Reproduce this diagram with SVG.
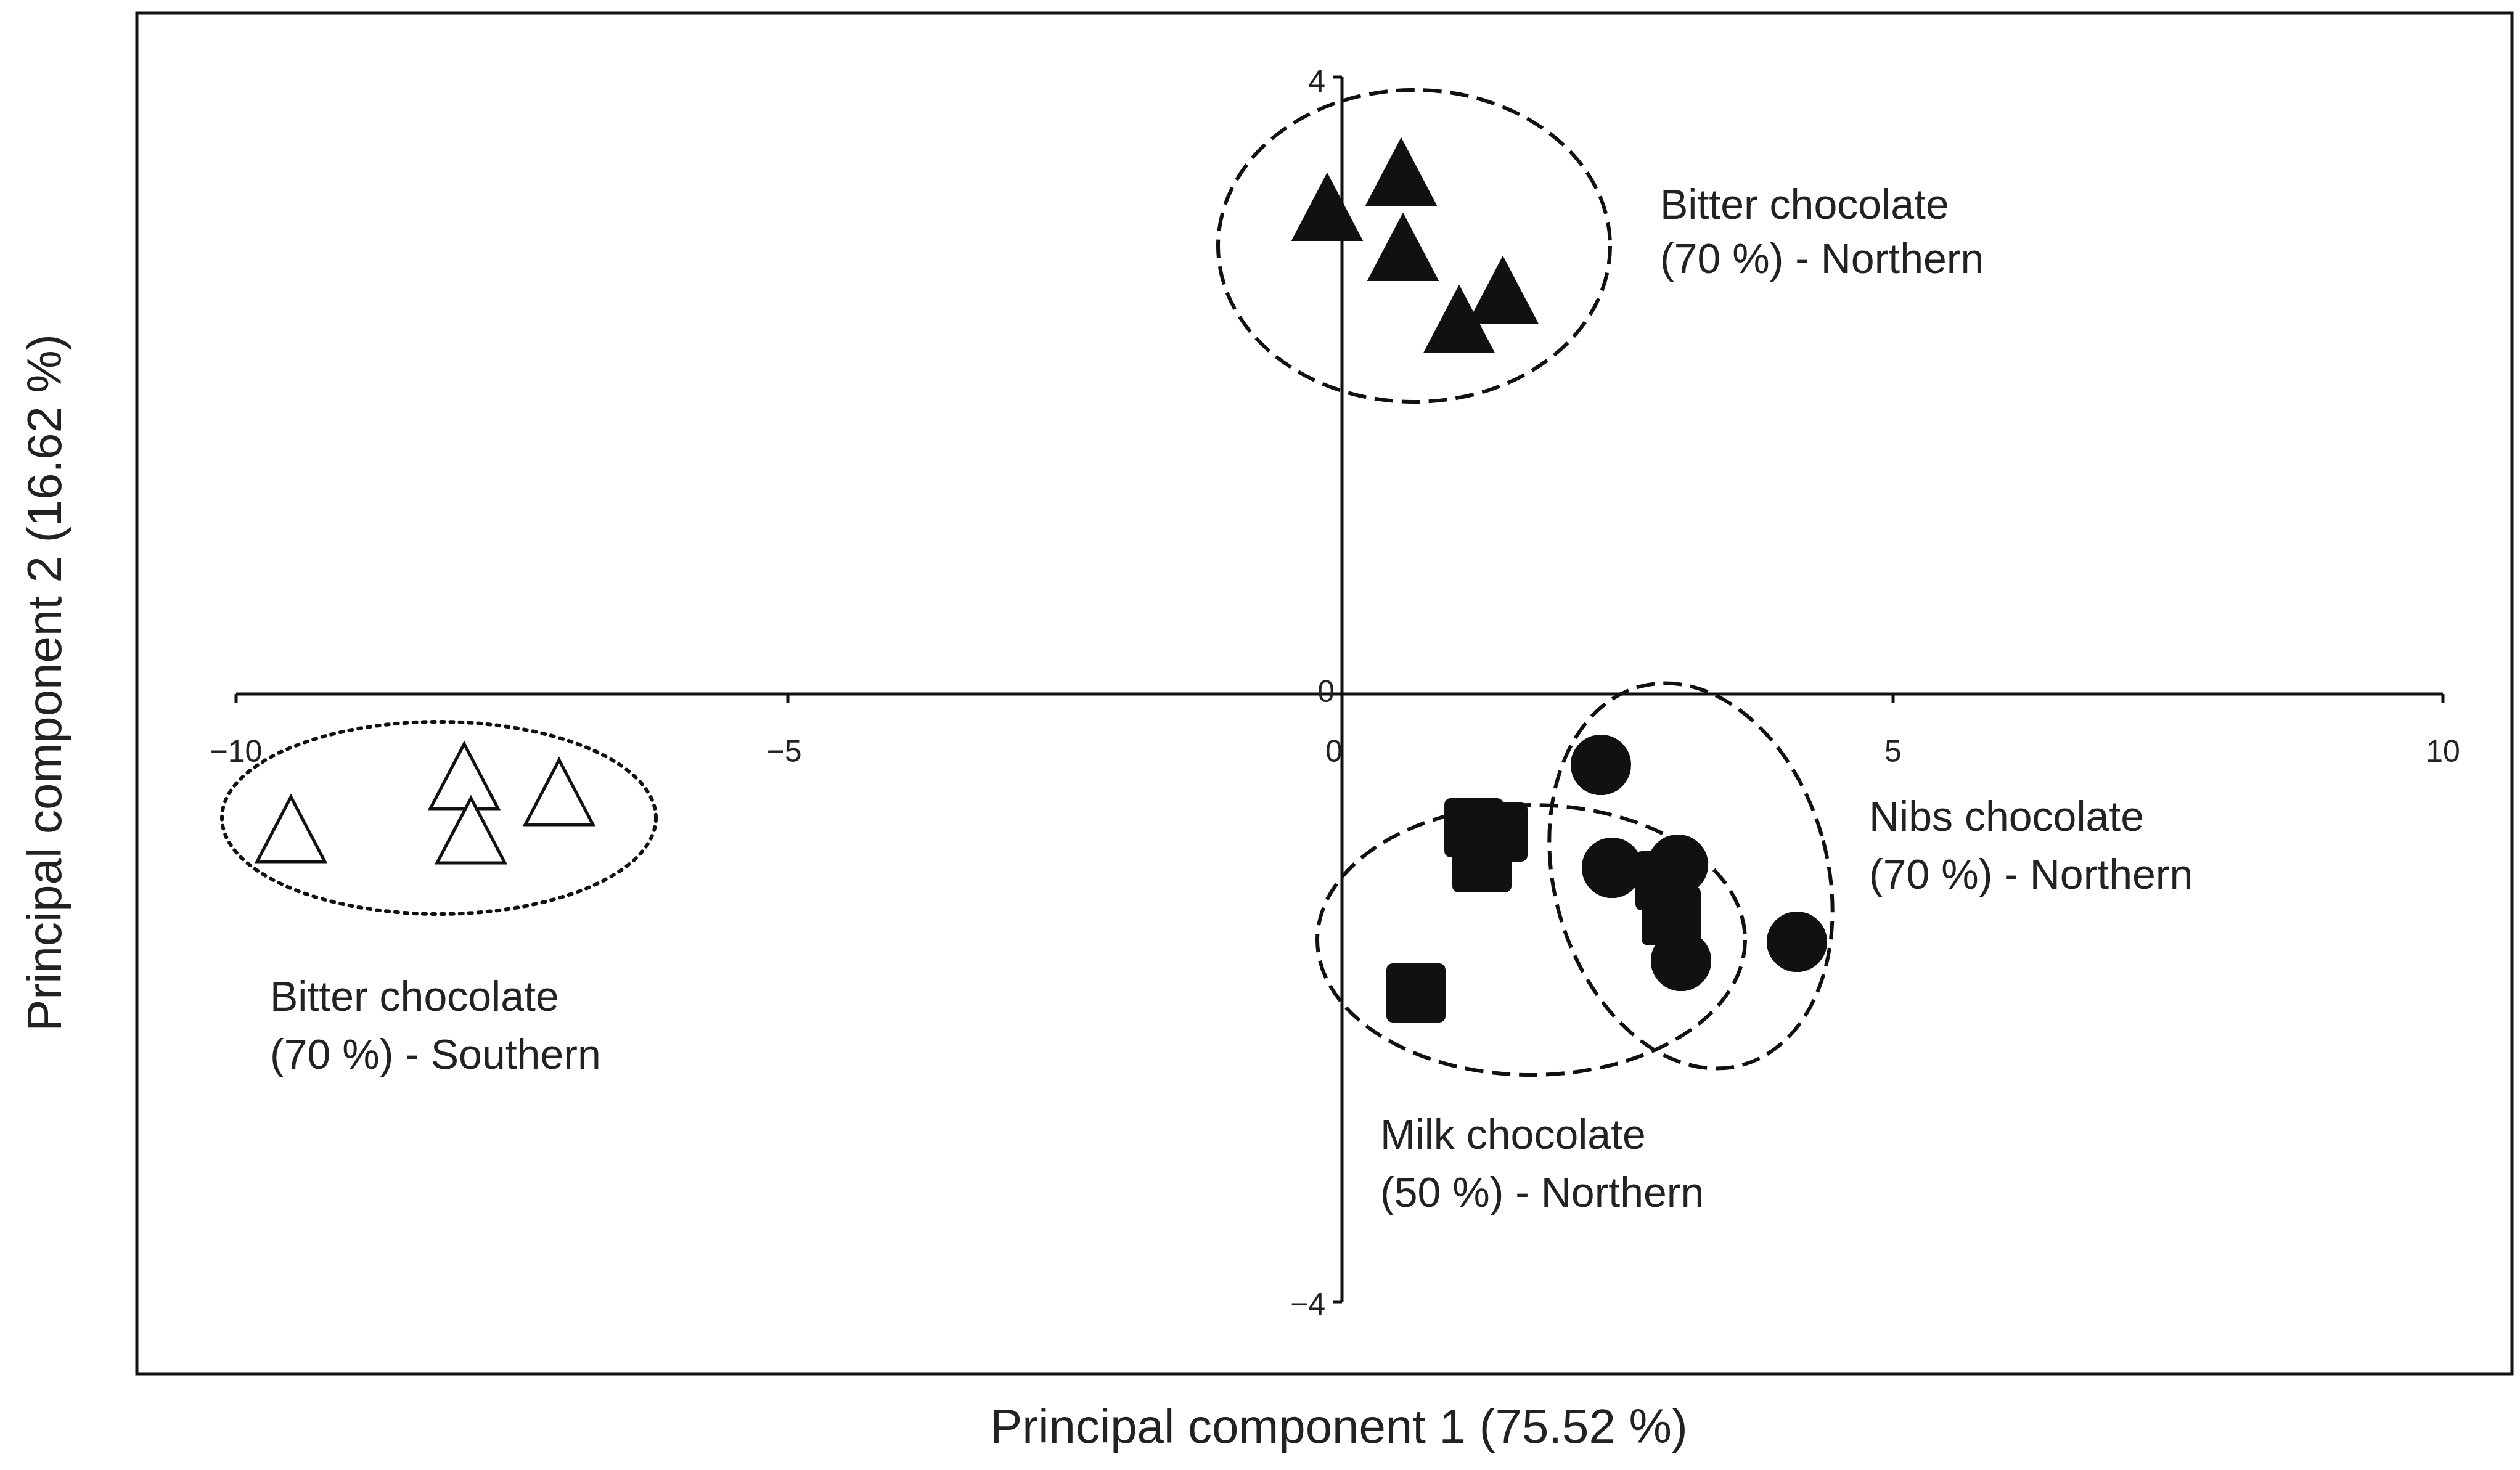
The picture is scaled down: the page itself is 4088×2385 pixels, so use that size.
<svg xmlns="http://www.w3.org/2000/svg" width="4088" height="2385" viewBox="0 0 4088 2385">
<style>
.t{font-family:"Liberation Sans",Arial,sans-serif;fill:#222}
.lab{font-size:68px}
.tk{font-size:50px}
.ax{stroke:#111;stroke-width:5;fill:none}
.ft{fill:#111;stroke:#111;stroke-width:4}
.ot{fill:#fff;stroke:#111;stroke-width:5}
.dash{fill:none;stroke:#111;stroke-width:6;stroke-dasharray:30 14}
.dot{fill:none;stroke:#111;stroke-width:6;stroke-dasharray:5 10;stroke-linecap:round}
</style>
<defs>
<polygon id="tri" points="0,-55 -55,50 55,50"/>
<rect id="sq" x="-46" y="-46" width="92" height="92" rx="8"/>
<circle id="ci" r="47"/>
</defs>
<rect width="4088" height="2385" fill="#fff"/>
<rect x="222" y="21" width="3853" height="2208" class="ax"/>
<g id="axes">
<line x1="383" y1="1126" x2="3963" y2="1126" class="ax"/>
<line x1="2177" y1="125" x2="2177" y2="2112" class="ax"/>
<g class="ax"><line x1="383" y1="1126" x2="383" y2="1141"/><line x1="1278" y1="1126" x2="1278" y2="1141"/><line x1="3071" y1="1126" x2="3071" y2="1141"/><line x1="3963" y1="1126" x2="3963" y2="1141"/>
<line x1="2162" y1="125" x2="2177" y2="125"/><line x1="2162" y1="2112" x2="2177" y2="2112"/></g>
<text class="t tk" x="383" y="1236" text-anchor="middle">−10</text>
<text class="t tk" x="1272" y="1236" text-anchor="middle">−5</text>
<text class="t tk" x="2164" y="1236" text-anchor="middle">0</text>
<text class="t tk" x="3071" y="1236" text-anchor="middle">5</text>
<text class="t tk" x="3963" y="1236" text-anchor="middle">10</text>
<text class="t tk" x="2150" y="149" text-anchor="end">4</text>
<text class="t tk" x="2165" y="1139" text-anchor="end">0</text>
<text class="t tk" x="2150" y="2133" text-anchor="end">−4</text>
<text class="t" font-size="78" x="2172" y="2341" text-anchor="middle">Principal component 1 (75.52 %)</text>
<text class="t" font-size="78" transform="translate(78 1108) rotate(-90)" text-anchor="middle" dominant-baseline="middle">Principal component 2 (16.62 %)</text>
</g>
<g id="connectors">
<ellipse cx="2294" cy="399" rx="318" ry="253" class="dash"/>
<ellipse cx="712" cy="1327" rx="352" ry="156" class="dot"/>
<ellipse cx="2484" cy="1525" rx="347" ry="219" class="dash"/>
<ellipse cx="0" cy="0" rx="222" ry="318" class="dash" transform="translate(2743 1421) rotate(-15)"/>
</g>
<g id="bitter-northern">
<use href="#tri" class="ft" x="2153" y="339"/><use href="#tri" class="ft" x="2273" y="282"/><use href="#tri" class="ft" x="2276" y="404"/><use href="#tri" class="ft" x="2438" y="474"/><use href="#tri" class="ft" x="2367" y="521"/>
<text class="t lab" x="2693" y="355">Bitter chocolate</text><text class="t lab" x="2693" y="443">(70 %) - Northern</text>
</g>
<g id="bitter-southern">
<use href="#tri" class="ot" x="472" y="1348"/><use href="#tri" class="ot" x="753" y="1262"/><use href="#tri" class="ot" x="764" y="1350"/><use href="#tri" class="ot" x="907" y="1288"/>
<text class="t lab" x="438" y="1640">Bitter chocolate</text><text class="t lab" x="438" y="1734">(70 %) - Southern</text>
</g>
<g id="milk">
<use href="#sq" class="ft" x="2391" y="1343"/><use href="#sq" class="ft" x="2430" y="1350"/><use href="#sq" class="ft" x="2404" y="1400"/><use href="#sq" class="ft" x="2297" y="1611"/><use href="#sq" class="ft" x="2701" y="1429"/><use href="#sq" class="ft" x="2711" y="1486"/>
<text class="t lab" x="2239" y="1864">Milk chocolate</text><text class="t lab" x="2239" y="1958">(50 %) - Northern</text>
</g>
<g id="nibs">
<use href="#ci" class="ft" x="2597" y="1241"/><use href="#ci" class="ft" x="2615" y="1408"/><use href="#ci" class="ft" x="2722" y="1403"/><use href="#ci" class="ft" x="2727" y="1559"/><use href="#ci" class="ft" x="2915" y="1528"/>
<text class="t lab" x="3032" y="1348">Nibs chocolate</text><text class="t lab" x="3032" y="1442">(70 %) - Northern</text>
</g>
</svg>
